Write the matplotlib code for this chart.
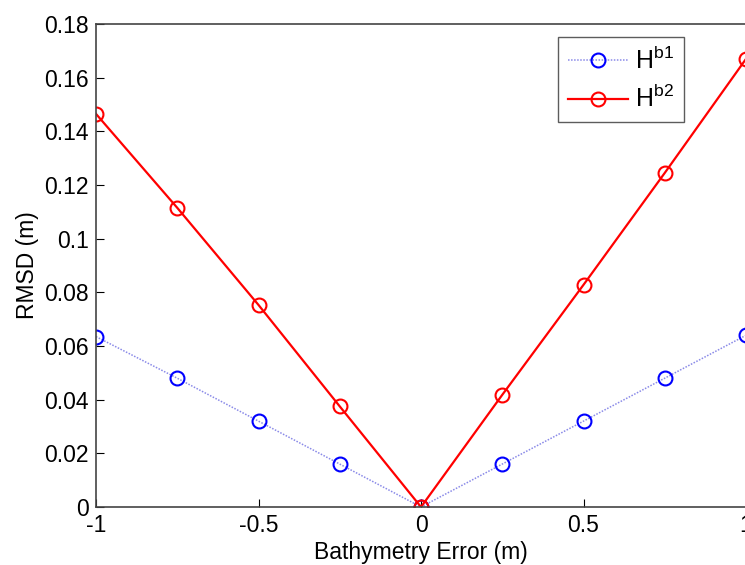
import matplotlib
matplotlib.use("Agg")
from matplotlib import pyplot as plt
import numpy as np

# bathymetry error (m)
err = [-1.0, -0.75, -0.5, -0.25, 0.0, 0.25, 0.5, 0.75, 1.0]

# RMSD (m) for the two cases
rmsd_b1 = [0.0635, 0.048, 0.032, 0.016, 0.0, 0.016, 0.032, 0.048, 0.064]
rmsd_b2 = [0.1465, 0.1115, 0.0753, 0.0375, 0.0, 0.0418, 0.0828, 0.1245, 0.167]

plt.rcParams['font.family'] = ['Liberation Sans', 'DejaVu Sans']
plt.rcParams['mathtext.fontset'] = 'custom'
plt.rcParams['mathtext.rm'] = 'Liberation Sans'
plt.rcParams['mathtext.it'] = 'Liberation Sans'

fig = plt.figure(figsize=(7.45, 5.65), dpi=100)
# axes run slightly past the right edge, as in the cropped original
ax = fig.add_axes([96/745, 1 - 507/565, 650/745, (507 - 24)/565])

ax.plot(err, rmsd_b1, color='#8a8ae8', lw=1.1, ls=(0, (1, 1)), marker='o', ms=10,
        mfc='none', mec='blue', mew=1.5, label=r'$\mathrm{H}^{\mathrm{b1}}$')
ax.plot(err, rmsd_b2, '-', color='red', lw=1.6, marker='o', ms=10,
        mfc='none', mec='red', mew=1.5, label=r'$\mathrm{H}^{\mathrm{b2}}$')

ax.set_xlim(-1, 1)
ax.set_ylim(0, 0.18)
ax.set_xticks([-1, -0.5, 0, 0.5, 1])
ax.set_xticklabels(['-1', '-0.5', '0', '0.5', '1'])
ax.set_yticks(np.arange(0, 0.181, 0.02))
ax.set_yticklabels(['0', '0.02', '0.04', '0.06', '0.08', '0.1', '0.12',
                    '0.14', '0.16', '0.18'])
ax.tick_params(direction='in', labelsize=16.5, length=6)
ax.tick_params(axis='x', pad=5)
ax.tick_params(axis='y', pad=5)
for s in ax.spines.values():
    s.set_color('#444444')
    s.set_linewidth(1.2)

ax.set_xlabel('Bathymetry Error (m)', fontsize=16.5, labelpad=3)
ax.set_ylabel('RMSD (m)', fontsize=16.5, labelpad=4)

leg = ax.legend(loc='upper right',
                bbox_to_anchor=((684 - 96)/650, (507 - 37)/483),
                borderaxespad=0, fontsize=18, fancybox=False,
                edgecolor='#333333', handlelength=2.4, borderpad=0.4,
                labelspacing=0.45, handletextpad=0.3)
leg.get_frame().set_linewidth(1.0)

plt.savefig('out.png', dpi=100)
